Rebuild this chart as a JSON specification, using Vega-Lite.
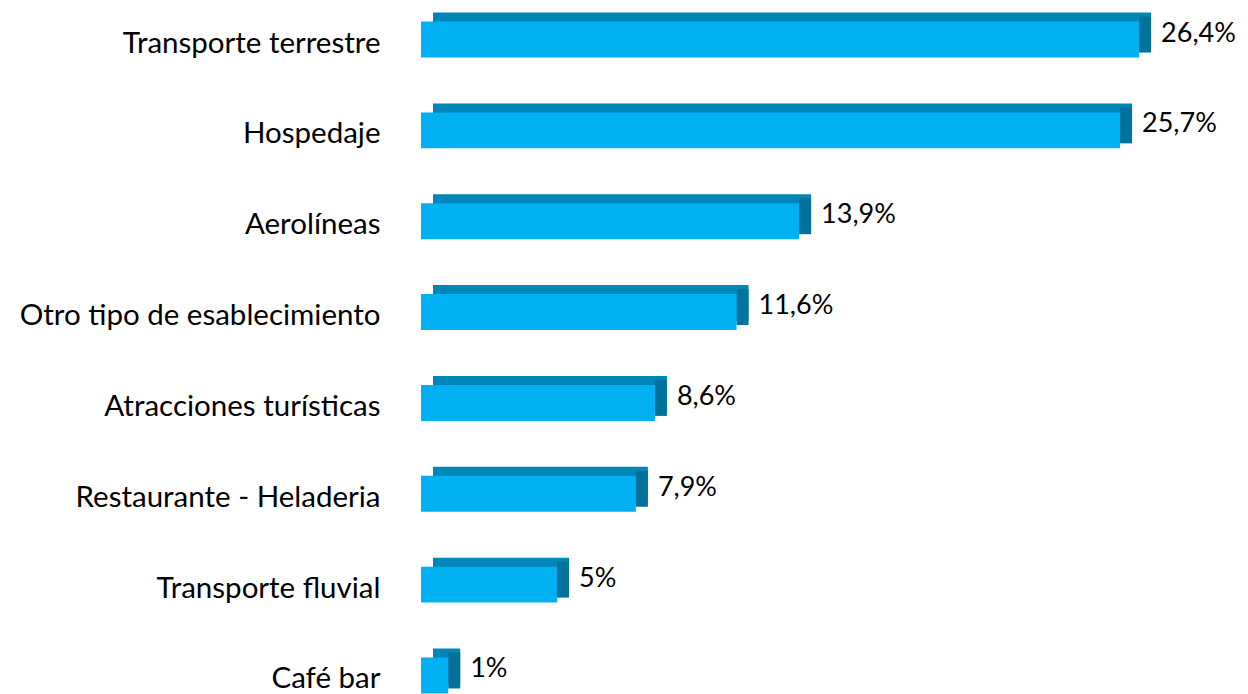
{
  "$schema": "https://vega.github.io/schema/vega-lite/v6.json",
  "autosize": "none",
  "width": 816,
  "height": 695,
  "padding": {"left": 421, "top": 10, "right": 0, "bottom": 0},
  "background": "white",
  "config": {"view": {"stroke": null}, "font": "Lato"},
  "data": {"values": [
    {"categoria": "Transporte terrestre", "valor": 26.4, "etiqueta": "26,4%"},
    {"categoria": "Hospedaje", "valor": 25.7, "etiqueta": "25,7%"},
    {"categoria": "Aerolíneas", "valor": 13.9, "etiqueta": "13,9%"},
    {"categoria": "Otro tipo de esablecimiento", "valor": 11.6, "etiqueta": "11,6%"},
    {"categoria": "Atracciones turísticas", "valor": 8.6, "etiqueta": "8,6%"},
    {"categoria": "Restaurante - Heladeria", "valor": 7.9, "etiqueta": "7,9%"},
    {"categoria": "Transporte fluvial", "valor": 5, "etiqueta": "5%"},
    {"categoria": "Café bar", "valor": 1, "etiqueta": "1%"}
  ]},
  "encoding": {
    "y": {
      "field": "categoria", "type": "nominal", "sort": null,
      "scale": {"paddingInner": 0.604, "paddingOuter": 0.127},
      "axis": {"title": null, "ticks": false, "domain": false, "labelPadding": 41, "labelFontSize": 29.5, "labelColor": "#000000", "labelFont": "Lato", "labelOffset": 4, "labelLimit": 500}
    }
  },
  "layer": [
    {
      "mark": {"type": "bar", "color": "#0086B8", "xOffset": 12, "yOffset": -9},
      "encoding": {"x": {"field": "valor", "type": "quantitative", "scale": {"domain": [0, 30]}, "axis": null}}
    },
    {
      "mark": {"type": "rect", "color": "#00729C", "x2Offset": 12, "yOffset": -5},
      "encoding": {
        "x": {"field": "valor", "type": "quantitative"},
        "x2": {"field": "valor"}
      }
    },
    {
      "mark": {"type": "bar", "color": "#00B0F0"},
      "encoding": {"x": {"field": "valor", "type": "quantitative"}}
    },
    {
      "mark": {"type": "text", "align": "left", "baseline": "middle", "dx": 22, "dy": -6, "fontSize": 27, "font": "Lato", "color": "#000000"},
      "encoding": {
        "x": {"field": "valor", "type": "quantitative"},
        "text": {"field": "etiqueta"}
      }
    }
  ]
}
